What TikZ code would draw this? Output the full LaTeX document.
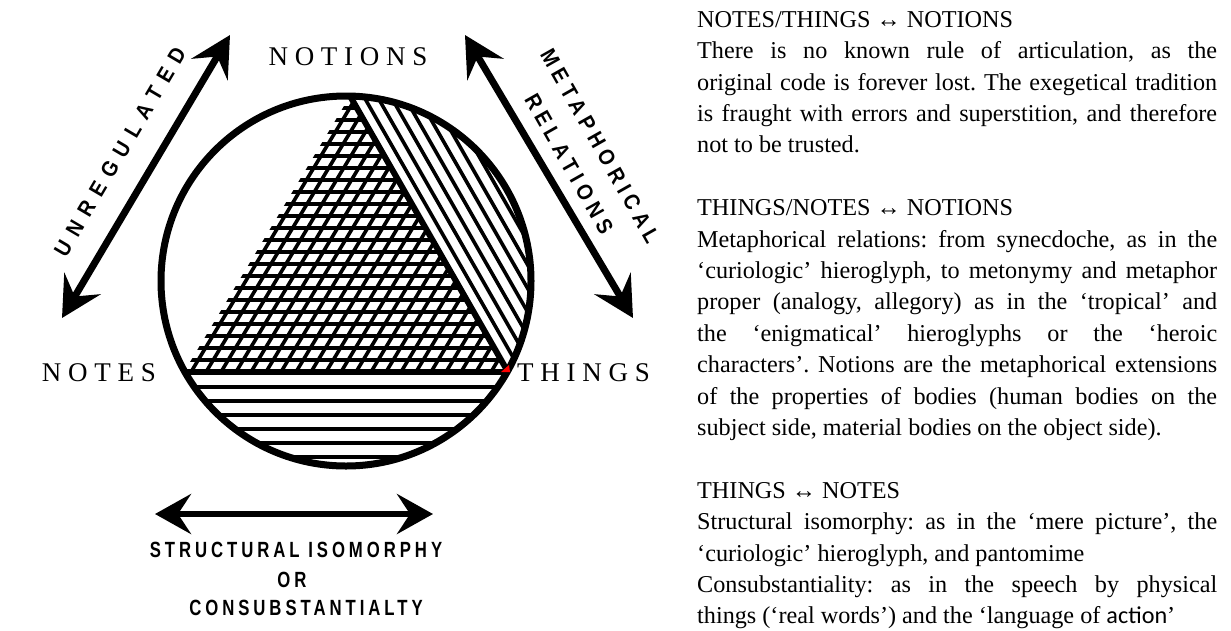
\documentclass[tikz,border=0pt]{standalone}
\usepackage{fontspec}
\setmainfont{Liberation Serif}
\newfontfamily\capfont{Liberation Serif}[LetterSpace=25]
\newfontfamily\lblA{Liberation Sans}[FakeStretch=0.76,LetterSpace=18]
\newfontfamily\lblB{Liberation Sans}[FakeStretch=0.9,LetterSpace=40]
\newfontfamily\lblC{Liberation Sans}[FakeStretch=0.9,LetterSpace=25]
\newfontfamily\calfont{Carlito}
\newcommand\bodyfontsetup{\fontsize{24.2}{31.4}\selectfont\parindent0pt\tolerance10000\frenchspacing}
\usetikzlibrary{arrows.meta}
\tikzset{
  ring/.style={line width=7pt},
  edgeline/.style={line width=6pt},
  hatch/.style={line width=3.6pt},
  bigarrow/.style={line width=7pt,
     {Stealth[length=40pt,width=42pt,inset=15pt]}-{Stealth[length=40pt,width=42pt,inset=15pt]}},
  botarrow/.style={line width=6pt,
     {Stealth[length=36pt,width=40pt,inset=13pt]}-{Stealth[length=36pt,width=40pt,inset=13pt]}},
  serifcap/.style={font=\capfont\fontsize{27}{27}\selectfont, inner sep=0pt},
  unreglbl/.style={font=\lblB\bfseries\fontsize{22}{22}\selectfont, inner sep=0pt},
  metalbl/.style={font=\lblC\bfseries\fontsize{22}{22}\selectfont, inner sep=0pt},
  botlbl/.style={font=\lblA\bfseries\fontsize{22}{22}\selectfont, inner sep=0pt},
  bodytext/.style={font=\bodyfontsetup, inner sep=0pt, text width=520pt, align=justify}
}
\begin{document}
\begin{tikzpicture}[x=1pt,y=-1pt]
\useasboundingbox (0,0) rectangle (1231,630);
% geometry
\coordinate (c) at (346,281);
\coordinate (tT) at (350,96);
\coordinate (tL) at (184,372);
\coordinate (tR) at (508,372);
% cross-hatched triangle
\begin{scope}
  \clip (tT) -- (tR) -- (tL) -- cycle;
  \foreach \k in {1,...,24} {\draw[hatch] (150,{372-12*\k}) -- (530,{372-12*\k});}
  \foreach \k in {0,...,22} {\draw[hatch] ({191+15*\k},372) -- ++(166,-276);}
\end{scope}
% right segment: diagonal lines
\begin{scope}
  \clip (c) circle[radius=185];
  \clip (tT) -- (tR) -- (700,372) -- (700,0) -- (350,0) -- cycle;
  \foreach \k in {1,...,12} {\draw[hatch] ({350+13.5*\k-158},{96-276}) -- ++(474,828);}
\end{scope}
% bottom segment: horizontal lines
\begin{scope}
  \clip (c) circle[radius=185];
  \clip (100,372) rectangle (600,500);
  \foreach \k in {0,...,6} {\draw[hatch] (100,{387+14*\k}) -- (600,{387+14*\k});}
\end{scope}
\draw[edgeline] (tL) -- (tR);
\draw[edgeline] (tT) -- (tR);
\draw[ring] (c) circle[radius=185];
\fill[red] (501,372) -- (509,365) -- (510,372) -- cycle;
% corner labels
\node[serifcap, anchor=base] (notions) at (348,65) {NOTIONS};
\node[serifcap, anchor=base east] (notes) at (156,381) {NOTES};
\node[serifcap, anchor=base west] (things) at (517,381) {THINGS};
% arrows
\coordinate (ulTop) at (230,35);
\coordinate (ulBot) at (62,318);
\coordinate (mrTop) at (465,35);
\coordinate (mrBot) at (633,318);
\coordinate (bL) at (155,514);
\coordinate (bR) at (433,514);
\draw[bigarrow] (ulBot) -- (ulTop);
\draw[bigarrow] (mrTop) -- (mrBot);
\draw[botarrow] (bL) -- (bR);
\node[unreglbl, rotate=59.5] (unreg) at (120,152) {UNREGULATED};
\node[metalbl, rotate=-60.5] (metaph) at (600,146) {METAPHORICAL};
\node[metalbl, rotate=-60.5] (relat) at (569,164) {RELATIONS};
\node[botlbl] (struct) at (296,550) {STRUCTURAL ISOMORPHY};
\node[botlbl] (orlbl) at (292,580) {OR};
\node[botlbl] (consub) at (306,608) {CONSUBSTANTIALTY};
% right text
\node[bodytext, anchor=north west] (txt) at (697,11) {%
NOTES/THINGS ↔ NOTIONS\par
There is no known rule of articulation, as the\linebreak
original code is forever lost. The exegetical tradition\linebreak
is fraught with errors and superstition, and therefore\linebreak
not to be trusted.\par
\vskip31.4pt
THINGS/NOTES ↔ NOTIONS\par
Metaphorical relations: from synecdoche, as in the\linebreak
‘curiologic’ hieroglyph, to metonymy and metaphor\linebreak
proper (analogy, allegory) as in the ‘tropical’ and\linebreak
the ‘enigmatical’ hieroglyphs or the ‘heroic\linebreak
characters’. Notions are the metaphorical extensions\linebreak
of the properties of bodies (human bodies on the\linebreak
subject side, material bodies on the object side).\par
\vskip31.4pt
THINGS ↔ NOTES\par
Structural isomorphy: as in the ‘mere picture’, the\linebreak
‘curiologic’ hieroglyph, and pantomime\par
Consubstantiality: as in the speech by physical\linebreak
things (‘real words’) and the ‘language of {\calfont action}’\par};
\end{tikzpicture}
\end{document}
